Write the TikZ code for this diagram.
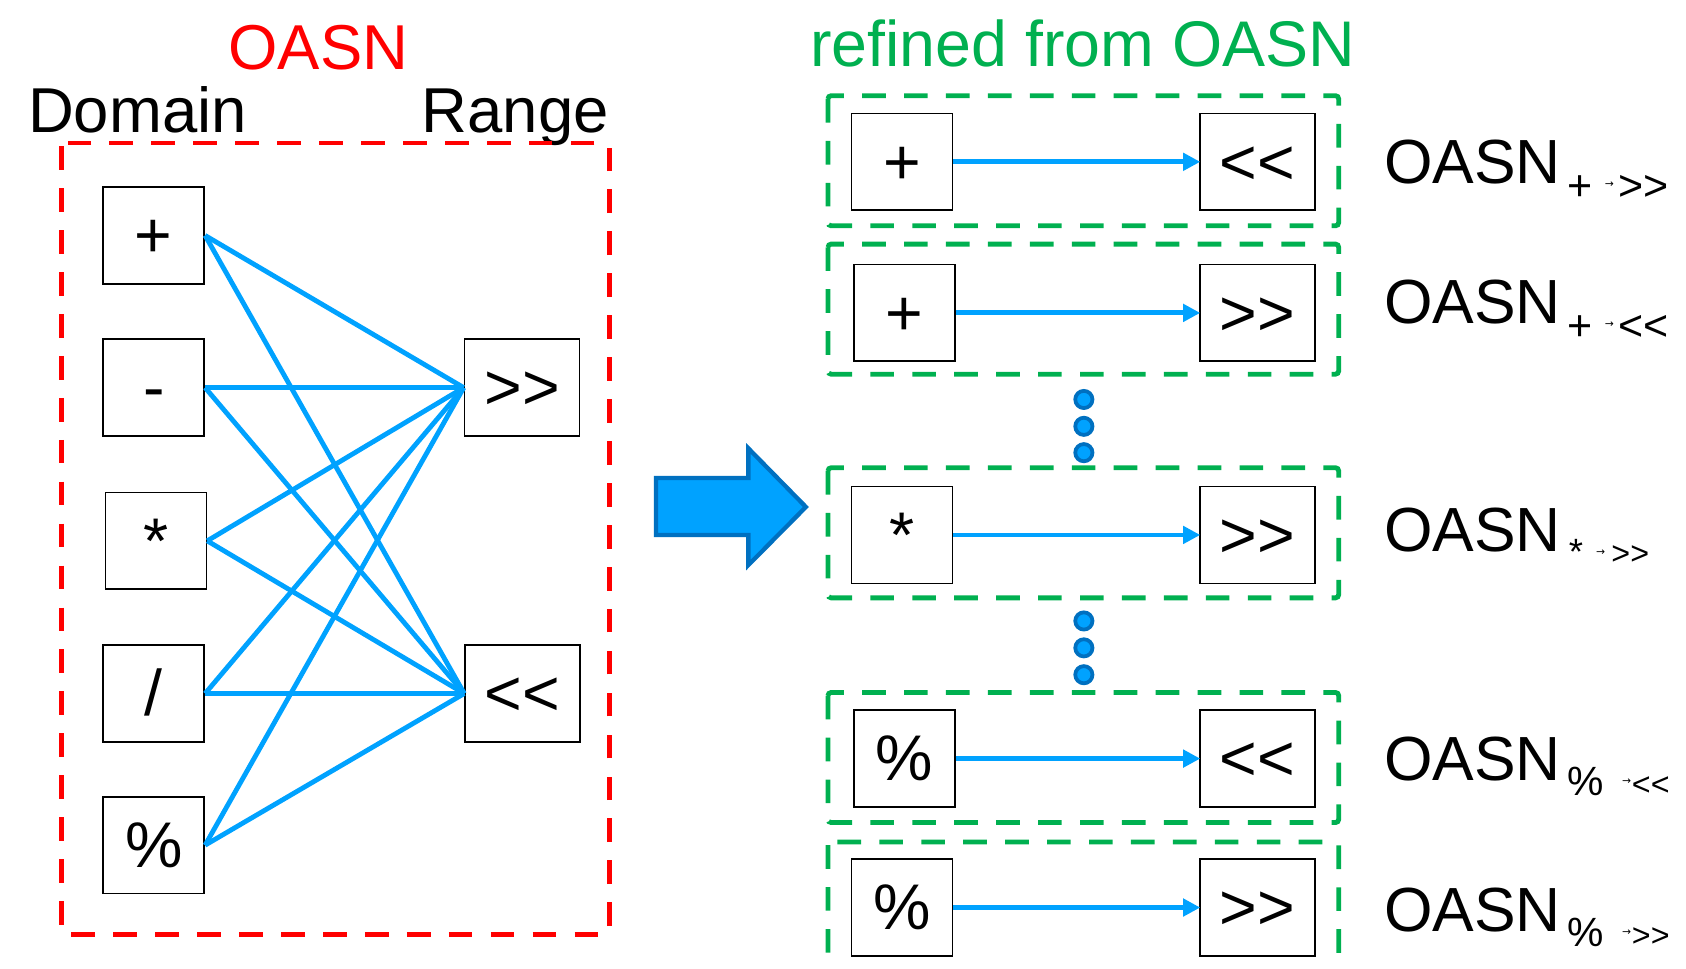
\documentclass[tikz,border=0pt]{standalone}
\usepackage{fontspec}
\setmainfont{Liberation Sans}[Ligatures=TeXOff]
\newfontfamily\arrowfont{DejaVu Sans}
\usetikzlibrary{arrows.meta}
\definecolor{lineblue}{RGB}{0,162,255}
\definecolor{darkblue}{RGB}{0,112,192}
\definecolor{dgreen}{RGB}{0,176,80}
\newcommand{\bigfs}{\fontsize{59}{62}\selectfont}
\newcommand{\grfs}{\fontsize{60}{62}\selectfont}
\newcommand{\boxfs}{\fontsize{60}{64}\selectfont}
\newcommand{\lblfs}{\fontsize{58}{60}\selectfont}
% #1 op, #2 op size, #3 kern before op, #4 kern before arrow, #5 range, #6 range size, #7 kern before range, #8 sub shift
\newcommand{\oasnlbl}[8]{{\lblfs OASN}\kern#3pt\raisebox{-#8pt}{\fontsize{#2}{#2}\selectfont #1}\kern#4pt\raisebox{-4pt}{\arrowfont\fontsize{10}{10}\selectfont →}\kern#7pt\raisebox{-#8pt}{\fontsize{#6}{#6}\selectfont #5}}
\tikzset{
  opbox/.style={draw=black, line width=1.5pt, minimum width=94pt, minimum height=90pt, inner sep=0pt, fill=white, font=\boxfs, text height=54.3pt, text depth=12.7pt},
  rbox/.style={opbox, minimum width=107pt},
  conn/.style={draw=lineblue, line width=4.5pt},
  mapar/.style={draw=lineblue, line width=4.5pt, -{Triangle[length=16pt,width=16pt]}, shorten >=-1pt},
  redframe/.style={draw=red, line width=4.5pt, dash pattern=on 22pt off 17pt, rounded corners=3pt},
  greenframe/.style={draw=dgreen, line width=4.5pt, dash pattern=on 22pt off 17pt, rounded corners=3pt},
  dotc/.style={circle, fill=lineblue, draw=darkblue, line width=3.5pt, minimum size=16pt, inner sep=0pt},
  lbl/.style={anchor=base west, inner sep=0pt},
  ttl/.style={inner sep=0pt, font=\bigfs}
}
\begin{document}
\begin{tikzpicture}[x=1pt,y=-1pt]
\useasboundingbox (0,0) rectangle (1568,901);
% titles
\node[ttl, text=red, anchor=base] (t1) at (296,65) {OASN};
\node[ttl, text=dgreen, anchor=base, font=\grfs] (t2) at (1007,62) {refined from OASN};
\node[ttl, anchor=base west] (dom) at (26,123.5) {Domain};
\node[ttl, anchor=base west] (rng) at (392,123.5) {Range};
% red frame
\draw[redframe] (57,133) rectangle (567,869);
% left boxes
\node[opbox] (p) at (143,219) {+};
\node[opbox] (m) at (143,360.5) {-};
\node[opbox] (t) at (145,503) {*};
\node[opbox] (d) at (143,645) {/};
\node[opbox] (r) at (143,786) {\%};
\node[rbox] (R1) at (485.5,360.5) {>>};
\node[rbox] (R2) at (486,645) {<<};
\foreach \s in {p,m,t,d,r}{
  \draw[conn] (\s.east) -- (R1.west);
  \draw[conn] (\s.east) -- (R2.west);
}
% big arrow
\draw[fill=lineblue, draw=darkblue, line width=4pt, line join=miter] (610,444.5) -- (696,444.5) -- (696,417) -- (749.5,471.5) -- (696,525.5) -- (696,497.5) -- (610,497.5) -- cycle;
% green frames
\draw[greenframe] (770,89) rectangle (1245,210);
\draw[greenframe] (770,227) rectangle (1245,348);
\draw[greenframe] (770,435) rectangle (1245,556);
\draw[greenframe] (770,644) rectangle (1245,765);
\draw[greenframe] (770,783) rectangle (1245,912);
% inner boxes
\node[opbox] (a1) at (839,150.5) {+};
\node[rbox] (b1) at (1169.5,150.5) {<<};
\node[opbox] (a2) at (841,291) {+};
\node[rbox] (b2) at (1169.5,291) {>>};
\node[opbox] (a3) at (839,497.5) {*};
\node[rbox] (b3) at (1169.5,497.5) {>>};
\node[opbox] (a4) at (841,705.5) {\%};
\node[rbox] (b4) at (1169.5,705.5) {<<};
\node[opbox] (a5) at (839,844) {\%};
\node[rbox] (b5) at (1169.5,844) {>>};
\foreach \i in {1,...,5}{ \draw[mapar] (a\i.east) -- (b\i.west); }
% dots
\node[dotc] (d1) at (1008,371.5) {};
\node[dotc] (d2) at (1008,396.5) {};
\node[dotc] (d3) at (1008,421) {};
\node[dotc] (d4) at (1008,577.5) {};
\node[dotc] (d5) at (1008,602.5) {};
\node[dotc] (d6) at (1008,627.5) {};
% labels
\node[lbl] (l1) at (1287,170.5) {\oasnlbl{+}{40}{6}{11.7}{>>}{40}{4}{16}};
\node[lbl] (l2) at (1287,300.7) {\oasnlbl{+}{40}{6}{11.7}{<<}{40}{4}{16}};
\node[lbl] (l3) at (1287,513) {\oasnlbl{*}{34}{7.5}{12}{>>}{30}{6}{12}};
\node[lbl] (l4) at (1287,726) {\oasnlbl{\%}{38}{6}{17.3}{<<}{30}{0.7}{14}};
\node[lbl] (l5) at (1287,866.4) {\oasnlbl{\%}{38}{6}{17.3}{>>}{30}{0.7}{14}};
\end{tikzpicture}
\end{document}
